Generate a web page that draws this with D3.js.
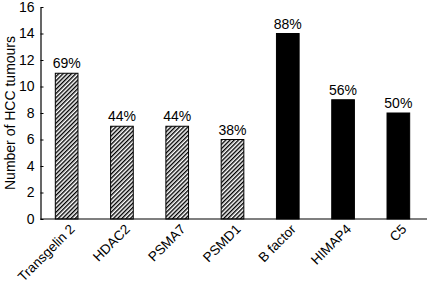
<!DOCTYPE html>
<html>
<head>
<meta charset="utf-8">
<script src="https://cdn.jsdelivr.net/npm/d3@7"></script>
<style>
  body { margin: 0; background: #fff; }
  text { font-family: "Liberation Sans", Arial, sans-serif; fill: #000; }
</style>
</head>
<body>
<svg id="chart"></svg>
<script>
const categories = ['Transgelin 2', 'HDAC2', 'PSMA7', 'PSMD1', 'B factor', 'HIMAP4', 'C5'];
const counts = [11, 7, 7, 6, 14, 9, 8];
const percents = ['69%', '44%', '44%', '38%', '88%', '56%', '50%'];
const hatched = [true, true, true, true, false, false, false];
const yTicks = [0, 2, 4, 6, 8, 10, 12, 14, 16];

const width = 427, height = 286;
const svg = d3.select('#chart').attr('width', width).attr('height', height);

// hatch pattern for the first group
const defs = svg.append('defs');
const pat = defs.append('pattern')
    .attr('id', 'hatch')
    .attr('patternUnits', 'userSpaceOnUse')
    .attr('width', 3)
    .attr('height', 3)
    .attr('patternTransform', 'rotate(45)');
pat.append('rect').attr('width', 3).attr('height', 3).attr('fill', '#fff');
pat.append('rect').attr('x', 0).attr('width', 1.4).attr('height', 3).attr('fill', '#000');

const axisX = 40.5;
const xScale = d3.scaleBand()
    .domain(categories)
    .range([39, 426])
    .paddingInner(0.59)
    .paddingOuter(0.295);

const yScale = d3.scaleLinear()
    .domain([0, 16])
    .range([219, 7]);

// bars
svg.selectAll('.bar')
    .data(categories)
  .join('rect')
    .attr('class', 'bar')
    .attr('x', d => xScale(d))
    .attr('y', (d, i) => yScale(counts[i]))
    .attr('width', xScale.bandwidth())
    .attr('height', (d, i) => yScale(0) - yScale(counts[i]))
    .attr('fill', (d, i) => hatched[i] ? 'url(#hatch)' : '#000')
    .attr('stroke', '#000')
    .attr('stroke-width', 1);

// percent labels
svg.selectAll('.pct')
    .data(categories)
  .join('text')
    .attr('class', 'pct')
    .attr('x', d => xScale(d) + xScale.bandwidth() / 2)
    .attr('y', (d, i) => yScale(counts[i]) - 5)
    .attr('text-anchor', 'middle')
    .attr('font-size', 14)
    .text((d, i) => percents[i]);

// y axis, ticks point inward
const yAxis = d3.axisRight(yScale)
    .tickValues(yTicks)
    .tickSize(3)
    .tickSizeOuter(0)
    .tickFormat(d3.format('d'));

const yAxisG = svg.append('g')
    .attr('transform', `translate(${axisX},0)`)
    .call(yAxis);
yAxisG.select('.domain').attr('stroke', '#000').attr('stroke-width', 1.2);
yAxisG.selectAll('.tick line').attr('stroke', '#000');
yAxisG.selectAll('.tick text')
    .attr('x', -6)
    .attr('text-anchor', 'end')
    .attr('font-size', 14)
    .attr('font-family', '"Liberation Sans", Arial, sans-serif')
    .attr('fill', '#000');

// x axis baseline
svg.append('line')
    .attr('x1', axisX)
    .attr('x2', width)
    .attr('y1', yScale(0))
    .attr('y2', yScale(0))
    .attr('stroke', '#000')
    .attr('stroke-width', 1.2);

// x labels, rotated
svg.selectAll('.xlabel')
    .data(categories)
  .join('text')
    .attr('class', 'xlabel')
    .attr('text-anchor', 'end')
    .attr('font-size', 13.5)
    .attr('transform', d => `translate(${xScale(d) + xScale.bandwidth() / 2 + 9},${yScale(0) + 11}) rotate(-45)`)
    .text(d => d);

// y label
svg.append('text')
    .attr('transform', `translate(15,${(yScale(0) + yScale(16)) / 2}) rotate(-90)`)
    .attr('text-anchor', 'middle')
    .attr('font-size', 14)
    .text('Number of HCC tumours');
</script>
</body>
</html>
